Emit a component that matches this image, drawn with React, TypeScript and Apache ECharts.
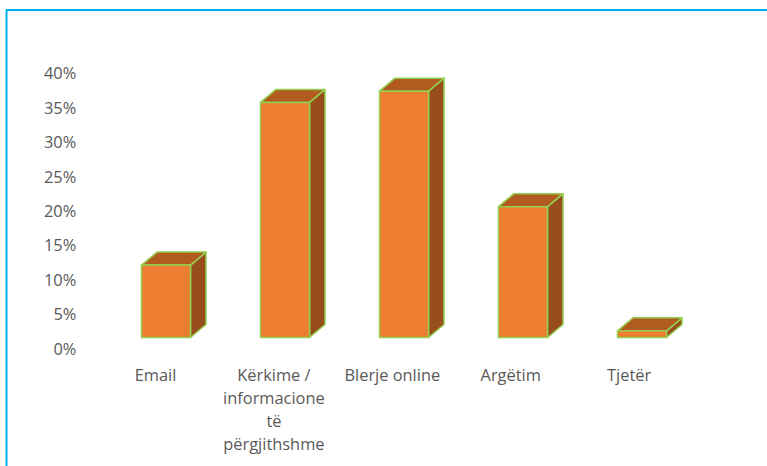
import React, { useEffect, useRef } from "react";
import * as echarts from "echarts";

// Internet usage purposes (percent of respondents)
const categories = ["Email", "Kërkime / informacione të përgjithshme", "Blerje online", "Argëtim", "Tjetër"];
const categoryLabels = ["Email", "Kërkime /\ninformacione\ntë\npërgjithshme", "Blerje online", "Argëtim", "Tjetër"];
const values = [10.9, 35.4, 37.1, 19.7, 1.0];
const axisMin = 0;
const axisMax = 40;
const axisStep = 5;

const FRONT = "#ED7D31";
const TOP = "#B15B21";
const SIDE = "#984D1C";
const EDGE = "#92D050";
const TEXT = "#595959";
const FONT = "'Open Sans', sans-serif";

export default function App() {
  const ref = useRef<HTMLDivElement>(null);

  useEffect(() => {
    document.body.style.margin = "0";
    if (!ref.current) return;
    const chart = echarts.init(ref.current, null, { renderer: "svg" });

    const depthX = 15.5;
    const depthY = -13;
    const edgeStyle = { stroke: EDGE, lineWidth: 1.5, lineJoin: "round" };

    chart.setOption({
      animation: false,
      backgroundColor: "#ffffff",
      grid: [
        { left: 106.5, top: 71.9, width: 595, height: 265.6 },
        { left: 96.3, top: 72.7, width: 592, height: 275.6 },
      ],
      xAxis: [
        { gridIndex: 0, type: "category", data: categories, show: false },
        {
          gridIndex: 1,
          type: "category",
          data: categoryLabels,
          axisLine: { show: false },
          axisTick: { show: false },
          axisLabel: {
            interval: 0,
            margin: 15,
            color: TEXT,
            fontFamily: FONT,
            fontSize: 16.4,
            lineHeight: 23,
            align: "center",
          },
        },
      ],
      yAxis: [
        { gridIndex: 0, type: "value", min: axisMin, max: axisMax, show: false },
        {
          gridIndex: 1,
          type: "value",
          min: axisMin,
          max: axisMax,
          interval: axisStep,
          splitLine: { show: false },
          axisLine: { show: false },
          axisTick: { show: false },
          axisLabel: {
            formatter: "{value}%",
            margin: 20,
            color: TEXT,
            fontFamily: FONT,
            fontSize: 16.4,
          },
        },
      ],
      series: [
        {
          type: "custom",
          xAxisIndex: 0,
          yAxisIndex: 0,
          data: values.map((v, i) => [i, v]),
          renderItem: (_params: any, api: any) => {
            const i = api.value(0);
            const v = api.value(1);
            const top = api.coord([i, v]);
            const base = api.coord([i, 0]);
            const band = api.size([1, 0])[0];
            const w = band * 0.412;
            const L = top[0] - w / 2;
            const R = top[0] + w / 2;
            const T = top[1];
            const B = base[1];
            return {
              type: "group",
              children: [
                {
                  type: "polygon",
                  shape: {
                    points: [
                      [R, T],
                      [R + depthX, T + depthY],
                      [R + depthX, B + depthY],
                      [R, B],
                    ],
                  },
                  style: { fill: SIDE, ...edgeStyle },
                },
                {
                  type: "polygon",
                  shape: {
                    points: [
                      [L, T],
                      [L + depthX, T + depthY],
                      [R + depthX, T + depthY],
                      [R, T],
                    ],
                  },
                  style: { fill: TOP, ...edgeStyle },
                },
                {
                  type: "rect",
                  shape: { x: L, y: T, width: R - L, height: B - T },
                  style: { fill: FRONT, ...edgeStyle },
                },
              ],
            };
          },
        },
      ],
      graphic: [
        {
          type: "line",
          shape: { x1: 6, y1: 10, x2: 767, y2: 10 },
          style: { stroke: "#00B0F0", lineWidth: 2 },
        },
        {
          type: "line",
          shape: { x1: 6.5, y1: 10, x2: 6.5, y2: 466 },
          style: { stroke: "#00B0F0", lineWidth: 2 },
        },
      ],
    });

    return () => chart.dispose();
  }, []);

  return <div ref={ref} style={{ width: 767, height: 466 }} />;
}
